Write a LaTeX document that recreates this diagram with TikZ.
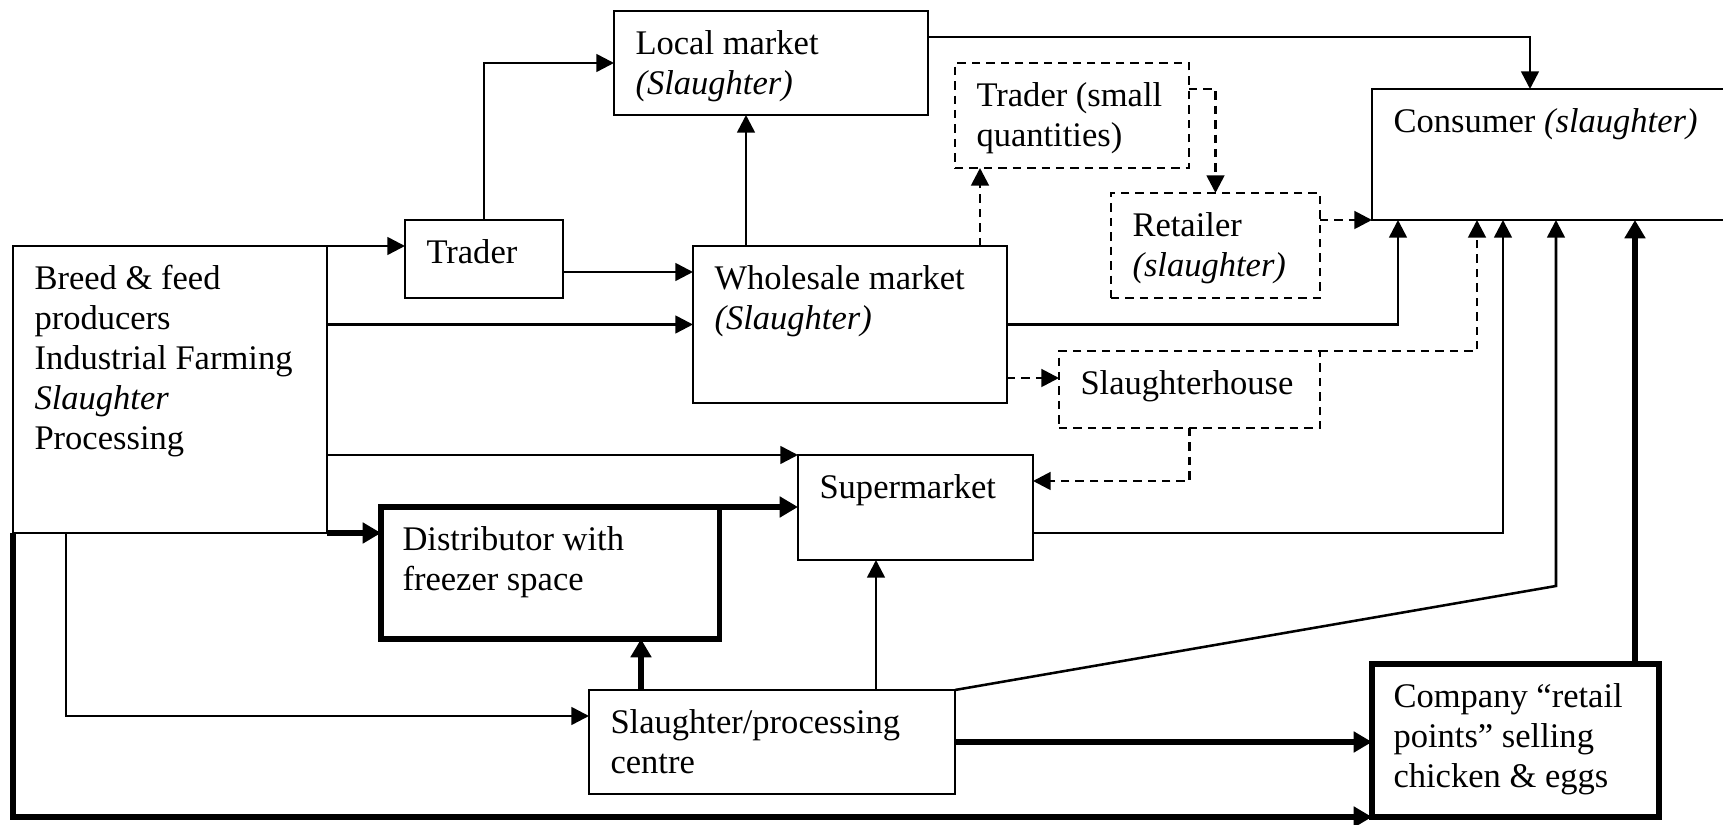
\documentclass[tikz,border=0pt]{standalone}
\usepackage{fontspec}
\setmainfont{Liberation Serif}
\usetikzlibrary{arrows.meta,calc}
\newlength\upx
\setlength\upx{0.01cm}
\newcommand\mkbox[7]{%
  \node[#2, anchor=north west, inner sep=0pt, outer sep=0pt] (#1) at (#3,#4)
  {\parbox[c][#6\upx][t]{#5\upx}{\raggedright\leftskip=0.215cm\relax\rule{0pt}{12.3pt}#7}};}
\tikzset{
  bxthin/.style={draw, line width=0.72pt},
  bxthick/.style={draw, line width=1.65pt},
  bxdash/.style={draw, line width=0.75pt, dash pattern=on 2.4pt off 1.7pt},
  con/.style={line width=0.72pt, -{Triangle[length=5pt,width=5pt]}},
  conthick/.style={line width=1.6pt, -{Triangle[length=5.2pt,width=5.7pt]}},
  condash/.style={line width=0.8pt, dash pattern=on 2.4pt off 1.7pt, -{Triangle[length=5pt,width=5pt]}},
}
\begin{document}
\begin{tikzpicture}[x=0.01cm, y=-0.01cm, font=\fontsize{9.82pt}{11.38pt}\selectfont]
\useasboundingbox (0,0) rectangle (1723,825);
\clip (0,0) rectangle (1723,825);
% boxes
\mkbox{breed}{bxthin}{13}{246}{314}{287}{Breed \& feed\\producers\\Industrial Farming\\\textit{Slaughter}\\Processing}
\mkbox{trader}{bxthin}{405}{220}{158}{78}{Trader}
\mkbox{local}{bxthin}{614}{11}{314}{104}{Local market\\\textit{(Slaughter)}}
\mkbox{whole}{bxthin}{693}{246}{314}{157}{Wholesale market\\\textit{(Slaughter)}}
\mkbox{tsmall}{bxdash}{955}{63}{234}{105}{Trader (small\\quantities)}
\mkbox{retailer}{bxdash}{1111}{193}{209}{105}{Retailer\\\textit{(slaughter)}}
\mkbox{consumer}{bxthin}{1372}{89}{420}{131}{Consumer \textit{(slaughter)}}
\mkbox{shouse}{bxdash}{1059}{351}{261}{77}{Slaughterhouse}
\mkbox{supermkt}{bxthin}{798}{455}{235}{105}{Supermarket}
\mkbox{distrib}{bxthick}{381}{507}{338.5}{132}{Distributor with\\freezer space}
\mkbox{spc}{bxthin}{589}{690}{366}{104}{Slaughter/processing\\centre}
\mkbox{company}{bxthick}{1372}{664}{287}{153}{Company “retail\\points” selling\\chicken \& eggs}
% connectors
\draw[con] (breed.north east) -- (breed.north east -| trader.west);
\draw[con] (trader.north) |- (local.west);
\coordinate (trE) at ($(trader.north east)+(0,52)$);
\draw[con] (trE) -- (trE -| whole.west);
\draw[con] (breed.east |- whole.west) -- (whole.west);
\coordinate (whN) at ($(whole.north west)+(53,0)$);
\draw[con] (whN) -- (whN |- local.south);
\coordinate (whN2) at ($(whole.north west)+(287,0)$);
\draw[condash] (whN2) -- (whN2 |- tsmall.south);
\coordinate (tsE) at ($(tsmall.north east)+(0,26)$);
\draw[condash] (tsE) -| (retailer.north);
\coordinate (rtE) at ($(retailer.north east)+(0,27)$);
\draw[condash] (rtE) -- (rtE -| consumer.west);
\coordinate (lmE) at ($(local.north east)+(0,26)$);
\coordinate (csT) at ($(consumer.north west)+(158,0)$);
\draw[con] (lmE) -| (csT);
\coordinate (cs1) at ($(consumer.south west)+(26,0)$);
\draw[con] (whole.east) -| (cs1);
\coordinate (whE2) at ($(whole.south east)+(0,-25)$);
\draw[condash] (whE2) -- (whE2 -| shouse.west);
\coordinate (cs2) at ($(consumer.south west)+(105,0)$);
\draw[condash] (shouse.north east) -| (cs2);
\coordinate (smE) at ($(supermkt.north east)+(0,26)$);
\draw[condash] (shouse.south) |- (smE);
\draw[con] (breed.east |- supermkt.north west) -- (supermkt.north west);
\coordinate (smE2) at ($(supermkt.north east)+(0,78)$);
\coordinate (cs3) at ($(consumer.south west)+(131,0)$);
\draw[con] (smE2) -| (cs3);
\draw[conthick] (breed.south east) -- (breed.south east -| distrib.west);
\draw[conthick] (distrib.north east) -- (distrib.north east -| supermkt.west);
\coordinate (spN1) at ($(spc.north west)+(52,0)$);
\draw[conthick] (spN1) -- (spN1 |- distrib.south);
\coordinate (spN2) at ($(spc.north west)+(287,0)$);
\draw[con] (spN2) -- (spN2 |- supermkt.south);
\coordinate (cs4) at ($(consumer.south west)+(184,0)$);
\coordinate (bend) at (cs4 |- 0,586);
\draw[con] (spc.north east) -- (bend) -- (cs4);
\draw[conthick] (spc.east) -- (spc.east -| company.west);
\coordinate (coN) at ($(company.north west)+(263,0)$);
\draw[conthick] (coN) -- (coN |- consumer.south);
\coordinate (brS) at ($(breed.south west)+(53,0)$);
\coordinate (spW) at ($(spc.north west)+(0,26)$);
\draw[con] (brS) |- (spW);
\draw[conthick] (breed.south west) |- (company.south west);
\end{tikzpicture}
\end{document}
